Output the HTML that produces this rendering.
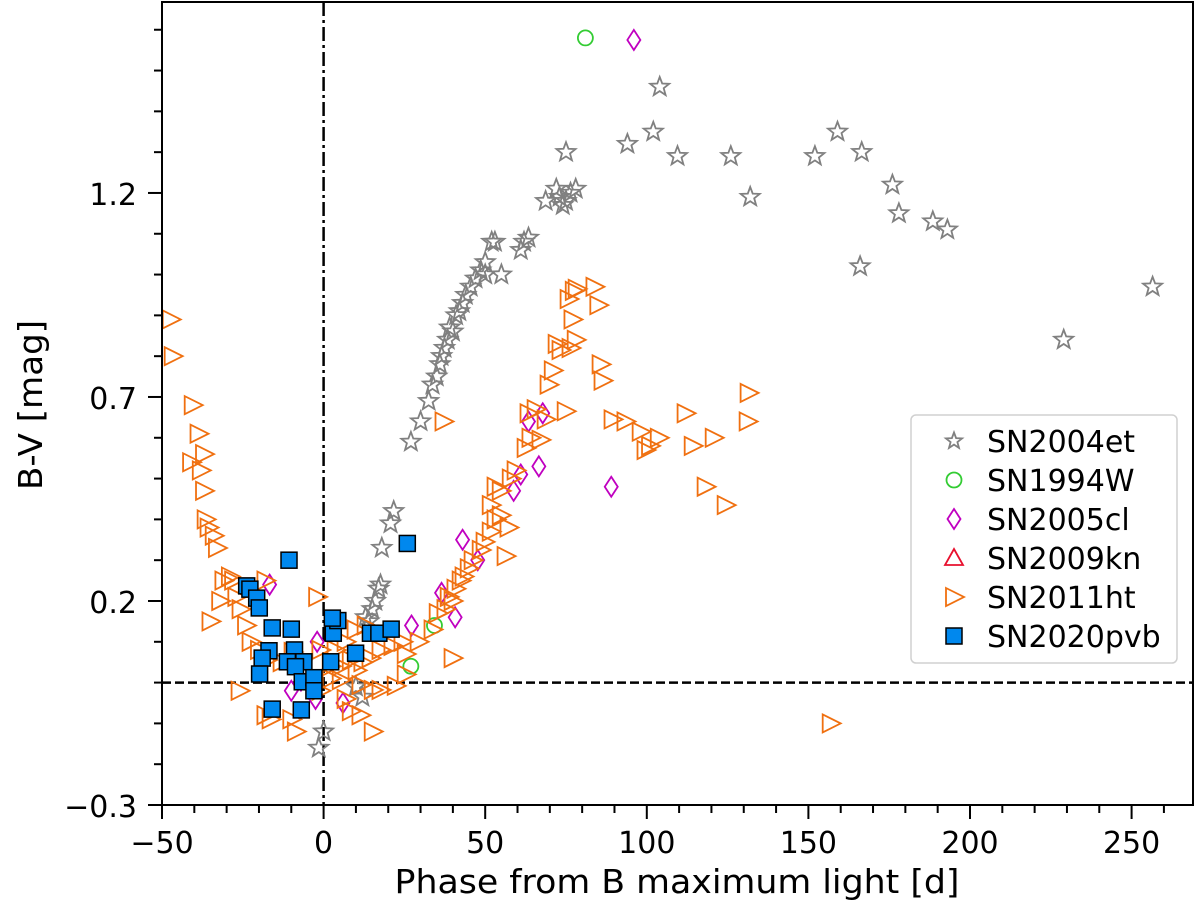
<!DOCTYPE html>
<html><head><meta charset="utf-8"><style>
body{margin:0;background:#fff}
svg{display:block;font-family:"DejaVu Sans","Liberation Sans",sans-serif}
</style></head><body>
<svg id="chart" width="1200" height="910" viewBox="0 0 1200 910">
<g id="marks"></g>
<g id="axes"></g>
</svg>
<script>
const xTicks=[-50,0,50,100,150,200,250];
const yTicks=[-0.3,0.2,0.7,1.2];
const yTickLabels=["\u22120.3","0.2","0.7","1.2"];
const xTickLabels=["\u221250","0","50","100","150","200","250"];
const sn2004et=[[-1.5,-0.16],[0,-0.12],[12,-0.035],[10,-0.01],[13,0.16],[15,0.18],[17,0.23],[17.6,0.24],[18,0.33],[20.7,0.39],[21.7,0.42],[27,0.59],[30,0.64],[32.5,0.69],[33.7,0.73],[35,0.75],[36,0.78],[37.4,0.82],[38.4,0.84],[40,0.86],[41,0.9],[43,0.93],[44,0.95],[45.5,0.97],[47,0.99],[48.6,1.01],[50,1.03],[52,1.08],[55,1.0],[50,1.0],[61,1.06],[62,1.08],[63.4,1.09],[53,1.08],[68.7,1.18],[72,1.21],[73,1.19],[74,1.17],[75,1.18],[76.4,1.2],[78,1.21],[75,1.30],[94,1.32],[104,1.46],[102,1.35],[109.5,1.29],[126,1.29],[132,1.19],[152,1.29],[159,1.35],[166.5,1.30],[166,1.02],[176,1.22],[178,1.15],[188.5,1.13],[193,1.11],[229,0.84],[256.5,0.97],[36.5,0.8],[39,0.87],[42,0.91],[16,0.2],[14,0.15]];
const sn1994w=[[81,1.58],[34.3,0.14],[27,0.04]];
const sn2005cl=[[96,1.575],[89,0.48],[67.8,0.66],[63.4,0.64],[66.6,0.53],[61,0.51],[58.8,0.47],[43,0.35],[47.7,0.30],[36.5,0.22],[40.7,0.16],[27.2,0.14],[-16.7,0.24],[-2,0.1],[-7,0.005],[-2.5,-0.04],[6,-0.05],[-10,-0.02]];
const sn2009kn=[];
const sn2011ht=[[-47.3,0.89],[-46.7,0.80],[-40.5,0.68],[-38.7,0.61],[-41,0.54],[-37,0.56],[-38,0.52],[-37,0.47],[-36.5,0.40],[-35.6,0.38],[-34,0.36],[-33,0.33],[-31,0.25],[-29,0.26],[-28,0.25],[-32,0.20],[-35,0.15],[-27,0.21],[-25.7,0.18],[-24,0.14],[-22.6,0.10],[-20,0.08],[-17.6,0.055],[-26,-0.02],[-18,-0.08],[-16.4,-0.09],[-10,-0.09],[-18,0.25],[-2,0.21],[-9.6,0.075],[-7,0.055],[-13,0.05],[-8.6,-0.12],[-1,-0.02],
[2.2,0.04],[5.3,0.04],[8.4,0.055],[10.2,0.03],[12,0.05],[14.5,0.06],[17.6,0.08],[21.3,0.09],[24.4,0.10],[29.4,0.10],[2.2,0.01],[5.3,0.006],[11.4,-0.006],[15.2,-0.018],[17.6,-0.018],[22.3,-0.008],[25.4,0.02],[6.8,-0.04],[8.4,-0.07],[15.2,-0.12],[11.4,-0.08],[-1,0.08],[3.7,0.08],[6.8,0.10],[13,0.14],[9.9,0.13],
[33.7,0.13],[35.3,0.17],[37.7,0.18],[38.7,0.21],[39.9,0.20],[40.8,0.23],[42.4,0.25],[43.3,0.26],[44.9,0.28],[46.1,0.30],[48.6,0.325],[49.8,0.345],[51.7,0.37],[53.2,0.40],[54.8,0.41],[56.3,0.31],[57.2,0.38],[51.7,0.435],[53.2,0.48],[54.8,0.47],[57.9,0.50],[59.4,0.52],[62.5,0.575],[64,0.60],[63.4,0.66],[67.1,0.595],[68.7,0.645],[69.6,0.73],[70.9,0.765],[73.3,0.815],[72.1,0.83],[76.4,0.82],[78,0.84],[65.6,0.67],[74.9,0.665],[77,0.89],[77.4,0.96],[78.3,0.965],[75.8,0.94],[83.8,0.97],[85,0.925],[85.7,0.78],[86.3,0.74],[37.1,0.64],[39.9,0.06],[25.4,0.07],
[89.4,0.645],[93.4,0.64],[98.1,0.615],[99.6,0.57],[101,0.58],[103.7,0.6],[112,0.66],[114.2,0.58],[120.7,0.6],[131.5,0.71],[131.2,0.64],[118.2,0.48],[124.4,0.435],[156.9,-0.10]];
const sn2020pvb=[[-23.8,0.237],[-22.8,0.229],[-20.7,0.207],[-19.9,0.183],[-10.7,0.30],[-15.9,0.134],[-10,0.131],[-16.9,0.078],[-19,0.06],[-19.8,0.021],[-9,0.08],[-11.2,0.051],[-6.1,0.051],[-8.7,0.039],[-6.6,0.002],[-3,0.012],[-3,-0.02],[-15.9,-0.065],[-6.9,-0.067],[2.2,0.051],[3,0.121],[4.4,0.152],[2.7,0.158],[9.9,0.072],[14.5,0.121],[17.1,0.121],[20.9,0.131],[25.9,0.341]];

const L=162,R=1193,T=2,B=805,X0=-50,X1=269,Y0=-0.3,Y1=1.668;
const sx=v=>L+(v-X0)/(X1-X0)*(R-L);
const sy=v=>B-(v-Y0)/(Y1-Y0)*(B-T);
const NS='http://www.w3.org/2000/svg';
function mk(tag,attrs,parent){const e=document.createElementNS(NS,tag);for(const k in attrs)e.setAttribute(k,attrs[k]);parent.appendChild(e);return e;}
const marks=document.getElementById('marks'),axes=document.getElementById('axes');
function star(cx,cy,r){let p=[];for(let i=0;i<10;i++){const a=-Math.PI/2+i*Math.PI/5,rr=i%2?r*0.42:r;p.push((cx+rr*Math.cos(a)).toFixed(1)+','+(cy+rr*Math.sin(a)).toFixed(1));}return p.join(' ');}
function drawMarker(type,cx,cy,parent,name,sc){
 sc=sc||1;let e;
 if(type==='star')e=mk('polygon',{points:star(cx,cy,10*sc),fill:'none',stroke:'#808080','stroke-width':1.8},parent);
 else if(type==='circle')e=mk('circle',{cx,cy,r:7.5,fill:'none',stroke:'#33cc33','stroke-width':1.8},parent);
 else if(type==='diamond')e=mk('polygon',{points:`${cx},${cy-10} ${cx+6.5},${cy} ${cx},${cy+10} ${cx-6.5},${cy}`,fill:'none',stroke:'#c000c0','stroke-width':1.8},parent);
 else if(type==='tri')e=mk('polygon',{points:`${cx},${cy-9} ${cx+9},${cy+7} ${cx-9},${cy+7}`,fill:'none',stroke:'#e8102e','stroke-width':1.8},parent);
 else if(type==='rtri')e=mk('polygon',{points:`${cx-8},${cy-9} ${cx+10},${cy} ${cx-8},${cy+9}`,fill:'none',stroke:'#f07010','stroke-width':1.8},parent);
 else e=mk('rect',{x:cx-8,y:cy-8,width:16,height:16,fill:'#0088ee',stroke:'#000','stroke-width':1.5},parent);
 
 
}
let l1=mk('line',{x1:L,x2:R,y1:sy(0),y2:sy(0),stroke:'#000','stroke-width':2.5,'stroke-dasharray':'9,4'},marks);

let l2=mk('line',{x1:sx(0),x2:sx(0),y1:T,y2:B,stroke:'#000','stroke-width':2.5,'stroke-dasharray':'14,4,3,4'},marks);

const series=[['star',sn2004et,'sn2004et-point'],['circle',sn1994w,'sn1994w-point'],['diamond',sn2005cl,'sn2005cl-point'],['tri',sn2009kn,'sn2009kn-point'],['rtri',sn2011ht,'sn2011ht-point'],['sq',sn2020pvb,'sn2020pvb-point']];
series.forEach(([t,d,n])=>{const g=mk('g',{},marks);d.forEach(p=>drawMarker(t,sx(p[0]),sy(p[1]),g,n));});
let fr=mk('rect',{x:L,y:T,width:R-L,height:B-T,fill:'none',stroke:'#000','stroke-width':2},axes);

for(let v=-50;v<=269;v+=10){const major=v%50===0;mk('line',{x1:sx(v),x2:sx(v),y1:B,y2:B+(major?14:8),stroke:'#000','stroke-width':2},axes);}
xTicks.forEach((v,i)=>{const t=mk('text',{x:sx(v),y:853,'font-size':30,'text-anchor':'middle'},axes);t.textContent=xTickLabels[i];});
for(let k=-3;k<=16;k++){const v=k/10;const major=(k+3)%5===0;mk('line',{x1:L,x2:L-(major?14:8),y1:sy(v),y2:sy(v),stroke:'#000','stroke-width':2},axes);}
yTicks.forEach((v,i)=>{const t=mk('text',{x:137,y:sy(v)+12,'font-size':30,'text-anchor':'end'},axes);t.textContent=yTickLabels[i];});
let xt=mk('text',{x:677,y:893,'font-size':33,'text-anchor':'middle',textLength:565,lengthAdjust:'spacingAndGlyphs'},axes);xt.textContent='Phase from B maximum light [d]';

let yt=mk('text',{x:42,y:405,'font-size':33,'text-anchor':'middle',transform:'rotate(-90 42 405)',textLength:170,lengthAdjust:'spacingAndGlyphs'},axes);yt.textContent='B-V [mag]';

const lg=mk('g',{},axes);
mk('rect',{x:911,y:415,width:266,height:248,rx:5,fill:'#fff','fill-opacity':0.85,stroke:'#d0d0d0','stroke-width':1.5},lg);
const names=['SN2004et','SN1994W','SN2005cl','SN2009kn','SN2011ht','SN2020pvb'];
names.forEach((nm,i)=>{const y=441+i*39;const g=mk('g',{},lg);
 drawMarker(series[i][0],954,y,g,'legend-marker',0.85);
 const t=mk('text',{x:987,y:y+11,'font-size':30},g);t.textContent=nm;});
</script>
</body></html>
